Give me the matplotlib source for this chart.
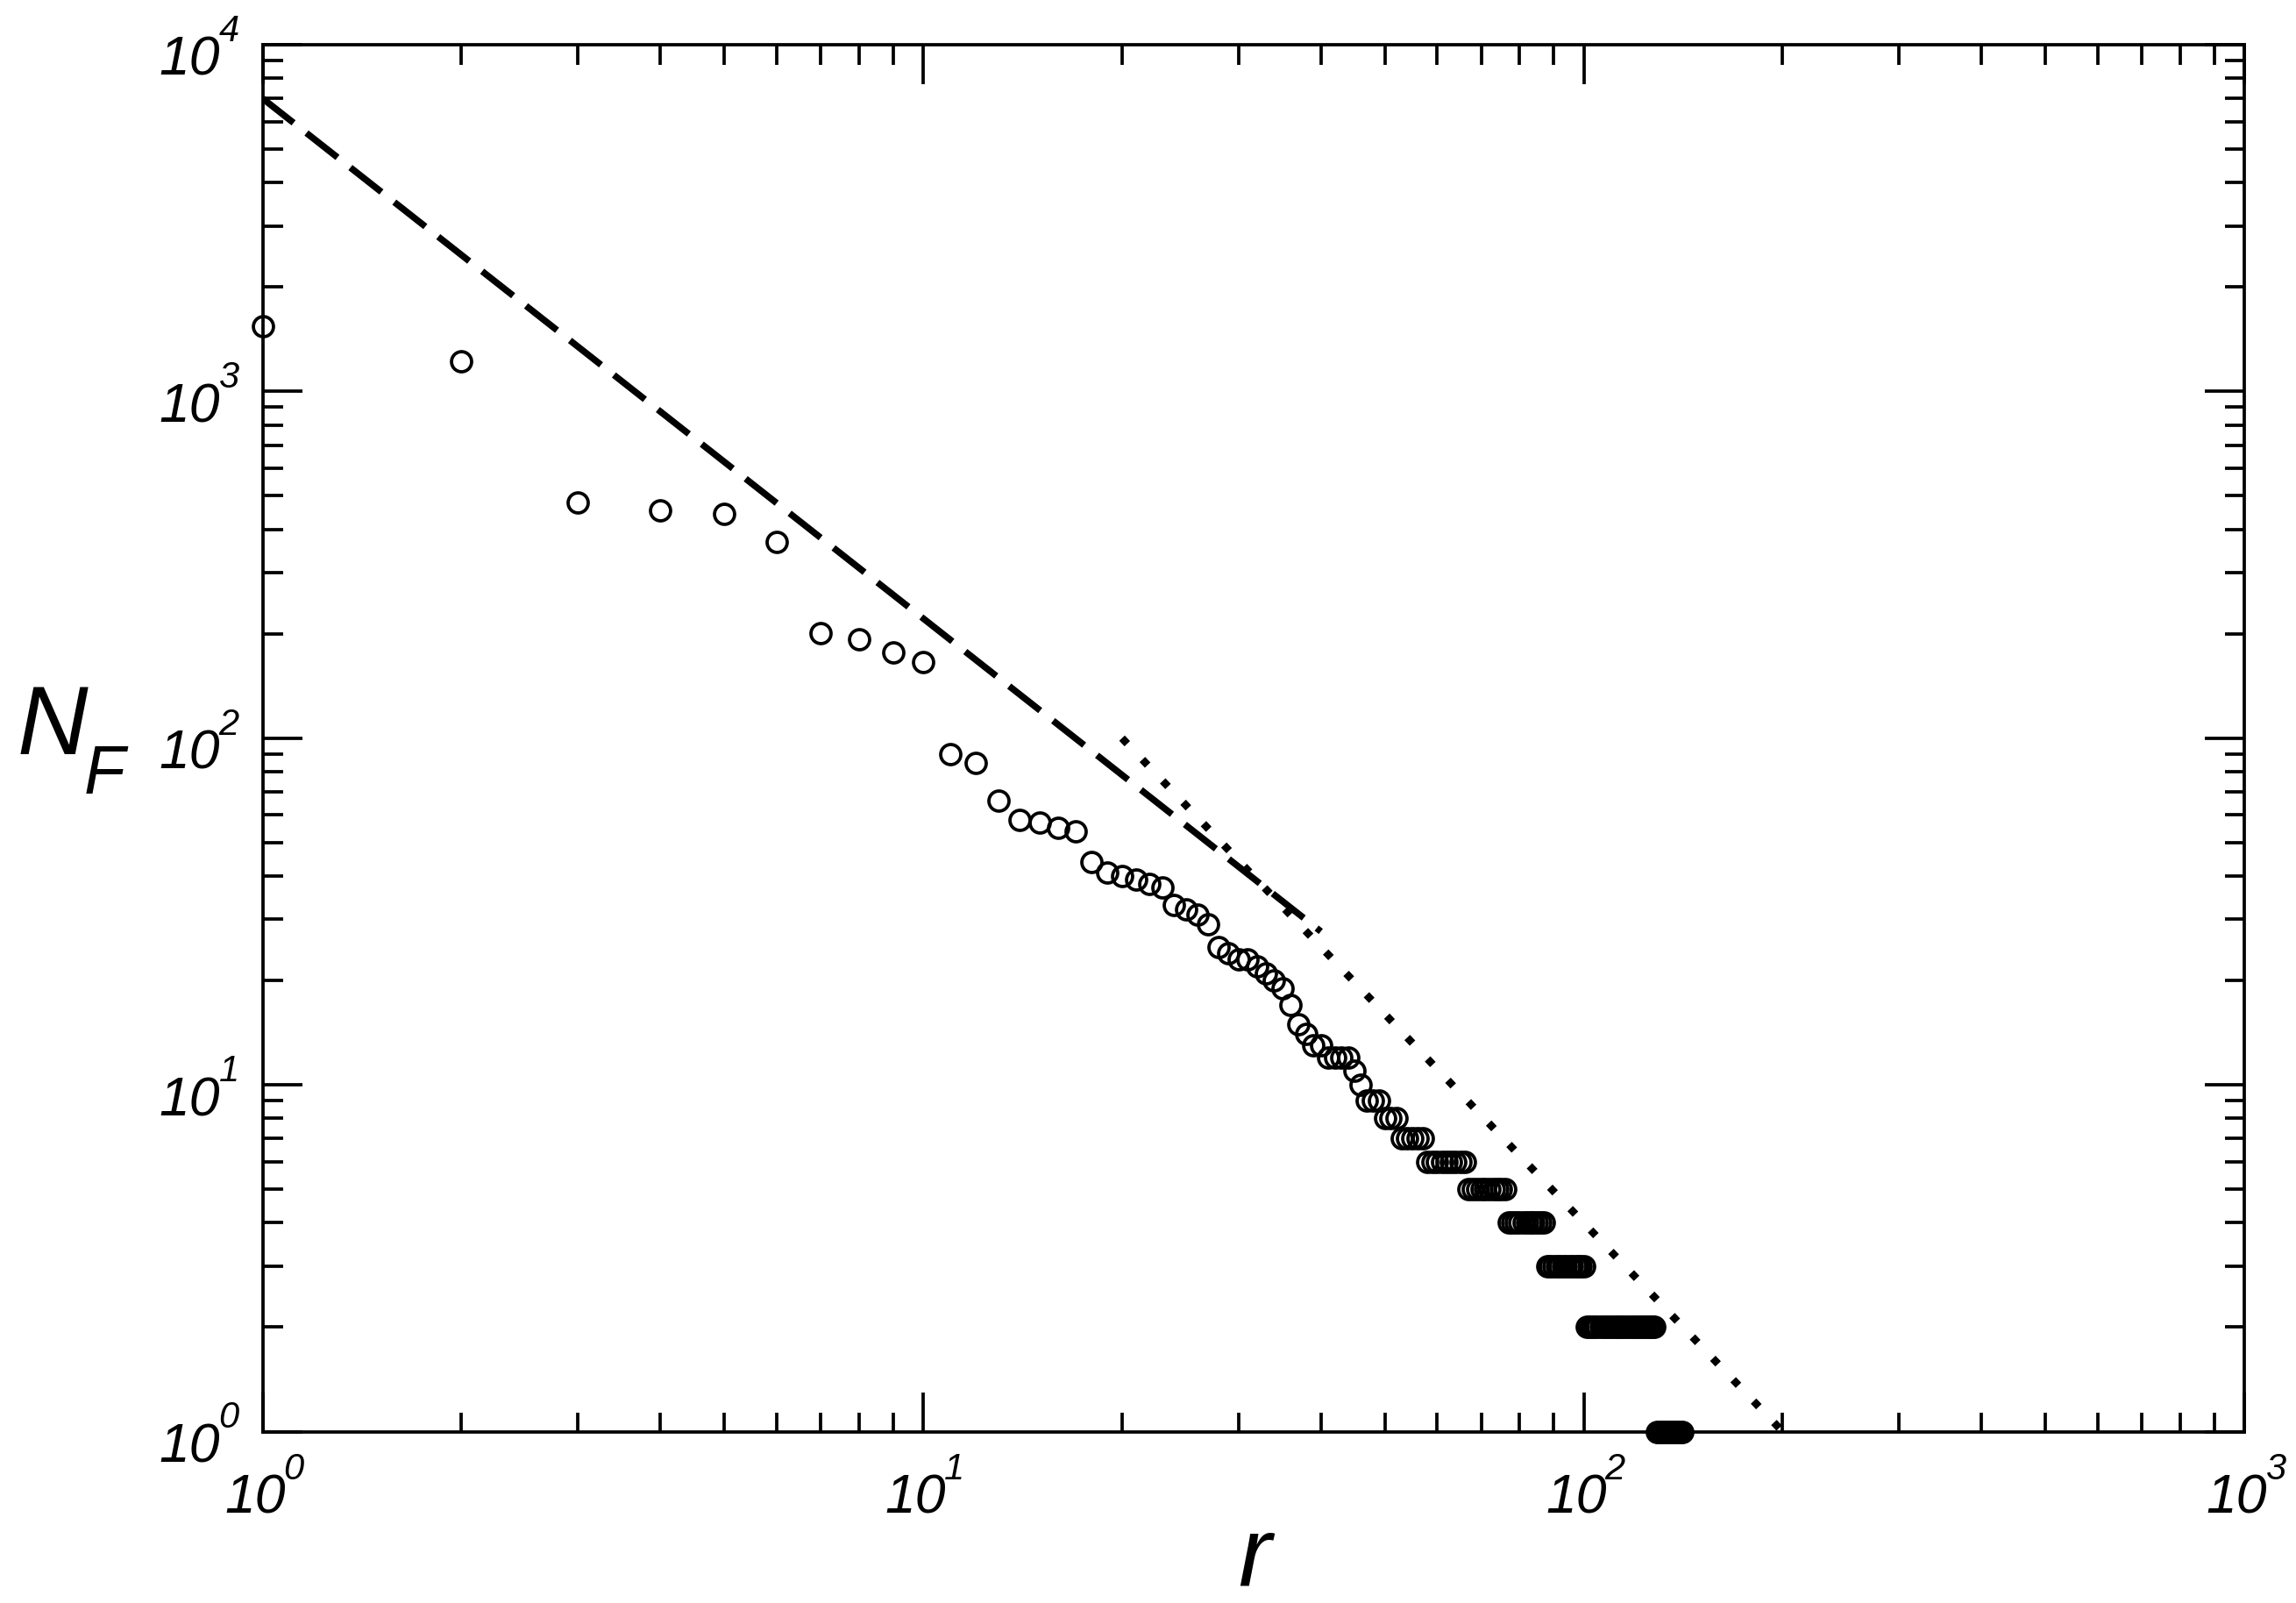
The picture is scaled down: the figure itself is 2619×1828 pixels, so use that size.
import numpy as np
import matplotlib
matplotlib.use('Agg')
import matplotlib.pyplot as plt
from matplotlib.ticker import LogLocator, NullFormatter
from matplotlib.transforms import blended_transform_factory, offset_copy

plt.rcParams['font.family'] = ['Liberation Sans', 'DejaVu Sans']

# N_F for ranks r = 1, 2, 3, ...
nf = [1540, 1225, 478, 455, 443, 368, 201, 193, 177, 166,
      90, 85, 66, 58, 57, 55, 54, 44, 41, 40,
      39, 38, 37, 33, 32, 31, 29, 25, 24, 23,
      23, 22, 21, 20, 19, 17, 15, 14, 13, 13,
      12, 12, 12, 12, 11, 10, 9, 9, 9, 8,
      8, 8, 7, 7, 7, 7, 7, 6, 6, 6,
      6, 6, 6, 6, 6, 6, 5, 5, 5, 5,
      5, 5, 5, 5, 5, 5, 4, 4, 4, 4,
      4, 4, 4, 4, 4, 4, 4, 3, 3, 3,
      3, 3, 3, 3, 3, 3, 3, 3, 3, 3,
      2, 2, 2, 2, 2, 2, 2, 2, 2, 2,
      2, 2, 2, 2, 2, 2, 2, 2, 2, 2,
      2, 2, 2, 2, 2, 2, 2, 2, 1, 1,
      1, 1, 1, 1, 1, 1, 1, 1, 1, 1,
      1]
rank = np.arange(1, len(nf) + 1)

# power-law guide lines (end points)
dash_r = [1, 40]
dash_n = [7000, 27.7]
dot_r = [20, 200]
dot_n = [100, 1]

xticks = [1, 10, 100, 1000]
x_exp = ['0', '1', '2', '3']
yticks = [1, 10, 100, 1000, 10000]
y_exp = ['0', '1', '2', '3', '4']

W, H = 2619, 1828
dpi = 300
fig = plt.figure(figsize=(W / dpi, H / dpi), dpi=dpi)
ax = fig.add_axes([299.5 / W, (H - 1632.5) / H, 2260.5 / W, 1581.5 / H])

ax.set_xscale('log')
ax.set_yscale('log')
ax.set_xlim(1, 1000)
ax.set_ylim(1, 10000)

ax.plot(dash_r, dash_n, color='black', lw=1.8, linestyle=(0, (6, 2.5)),
        dash_capstyle='butt', zorder=2)
ax.plot(dot_r, dot_n, color='black', lw=2.1, linestyle=(0, (1, 2.85)),
        dash_capstyle='butt', zorder=2)
ax.plot(rank, nf, linestyle='none', marker='o', ms=5.5, mfc='none',
        mec='black', mew=0.9, clip_on=False, zorder=3)

ax.set_xticks(xticks)
ax.set_yticks(yticks)
ax.set_xticklabels([])
ax.set_yticklabels([])
for axis in (ax.xaxis, ax.yaxis):
    axis.set_minor_locator(LogLocator(base=10, subs=np.arange(2, 10), numticks=20))
    axis.set_minor_formatter(NullFormatter())

ax.tick_params(which='both', direction='in', top=True, right=True, width=0.9,
               color='black')
ax.tick_params(which='major', length=10.8)
ax.tick_params(which='minor', length=5.4)
for sp in ax.spines.values():
    sp.set_linewidth(0.9)

# tick labels: "10" with raised italic exponent
tx = blended_transform_factory(ax.transData, ax.transAxes)
ty = blended_transform_factory(ax.transAxes, ax.transData)
for v, e in zip(xticks, x_exp):
    ax.text(v, 0, '10', transform=offset_copy(tx, fig=fig, x=26, y=-93.5, units='dots'),
            ha='right', va='baseline', fontsize=15, fontstyle='italic', clip_on=False)
    ax.text(v, 0, e, transform=offset_copy(tx, fig=fig, x=24, y=-54.5, units='dots'),
            ha='left', va='baseline', fontsize=10, fontstyle='italic', clip_on=False)
for v, e in zip(yticks, y_exp):
    ax.text(0, v, '10', transform=offset_copy(ty, fig=fig, x=-48.5, y=-35, units='dots'),
            ha='right', va='baseline', fontsize=15, fontstyle='italic', clip_on=False)
    ax.text(0, v, e, transform=offset_copy(ty, fig=fig, x=-50, y=4, units='dots'),
            ha='left', va='baseline', fontsize=10, fontstyle='italic', clip_on=False)

# axis labels
fig.text(1431 / W, 1 - 1808 / H, 'r', fontsize=27, fontstyle='italic',
         ha='center', va='baseline')
fig.text(20 / W, 1 - 860 / H, 'N', fontsize=26.8, fontstyle='italic',
         ha='left', va='baseline')
fig.text(96 / W, 1 - 905 / H, 'F', fontsize=18.4, fontstyle='italic',
         ha='left', va='baseline')

fig.savefig('out.png', dpi=dpi)
